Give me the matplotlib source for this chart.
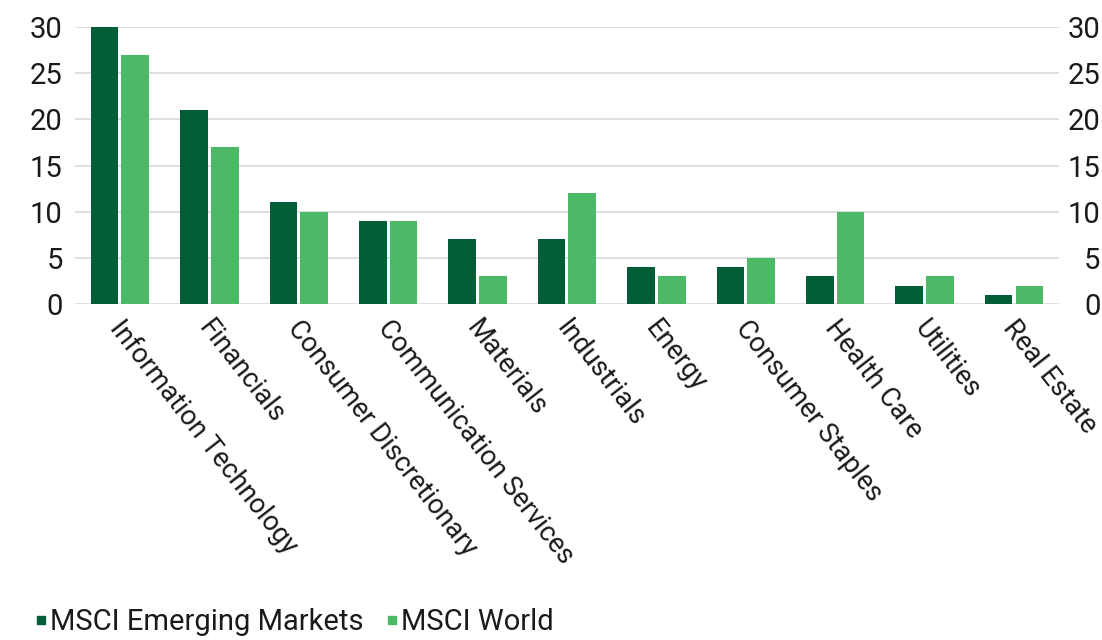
import matplotlib
matplotlib.use("Agg")
import matplotlib.pyplot as plt
from matplotlib.lines import Line2D
import matplotlib.transforms as mtransforms
import numpy as np

categories = ["Information Technology", "Financials", "Consumer Discretionary",
              "Communication Services", "Materials", "Industrials", "Energy",
              "Consumer Staples", "Health Care", "Utilities", "Real Estate"]
em_values = [30, 21, 11, 9, 7, 7, 4, 4, 3, 2, 1]
world_values = [27, 17, 10, 9, 3, 12, 3, 5, 10, 3, 2]
series_names = ["MSCI Emerging Markets", "MSCI World"]
yticks = [0, 5, 10, 15, 20, 25, 30]

dark = "#035E37"
light = "#4CB966"
plt.rcParams['font.family'] = ['Roboto', 'DejaVu Sans']

fig = plt.figure(figsize=(11.02, 6.4), dpi=100)
ax = fig.add_axes([0.0683, 0.525, 0.8924, 0.4328])
x = np.arange(len(categories))
w = 0.31
ax.bar(x - 0.172, em_values, w, color=dark, zorder=3)
ax.bar(x + 0.172, world_values, w, color=light, zorder=3)
ax.set_xlim(-0.5, len(categories) - 0.5)
ax.set_ylim(0, 30)
ax.set_yticks(yticks)
ax.grid(axis='y', color='#d9d9d9', linewidth=1.2, zorder=0)
for s in ax.spines.values():
    s.set_visible(False)
ax.tick_params(axis='y', length=0, pad=9, labelsize=21, labelcolor='#1a1a1a')
ax.tick_params(axis='x', length=0, pad=8)
ax.set_xticks(x)
ax.set_xticklabels(categories, rotation=-52, ha='left', va='top',
                   rotation_mode='anchor', fontsize=19.5, color='#1a1a1a')
offset = mtransforms.ScaledTranslation(5 / 100, 0, fig.dpi_scale_trans)
for lbl in ax.get_xticklabels():
    lbl.set_transform(lbl.get_transform() + offset)

ax2 = ax.twinx()
ax2.set_ylim(0, 30)
ax2.set_yticks(yticks)
for s in ax2.spines.values():
    s.set_visible(False)
ax2.tick_params(axis='y', length=0, pad=30, labelsize=21, labelcolor='#1a1a1a')
for lbl in ax2.get_yticklabels():
    lbl.set_horizontalalignment('right')

handles = [Line2D([], [], marker='s', linestyle='none', color=dark, markersize=6),
           Line2D([], [], marker='s', linestyle='none', color=light, markersize=6)]
fig.legend(handles, series_names, loc='lower left', bbox_to_anchor=(0.0, -0.035),
           ncol=2, frameon=False, fontsize=21, handletextpad=-0.2,
           columnspacing=0.5, handlelength=1.0, labelcolor='#1a1a1a')

fig.savefig("out.png", dpi=100)
